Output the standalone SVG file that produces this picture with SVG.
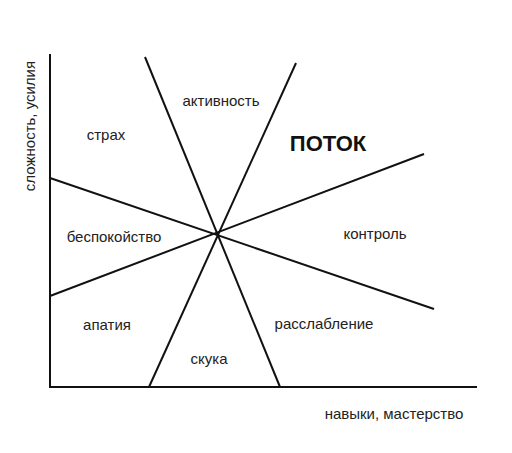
<svg xmlns="http://www.w3.org/2000/svg" width="512" height="453" viewBox="0 0 512 453">
<style>
.l{stroke:#111;stroke-width:2;fill:none;stroke-linecap:butt}
.t{font-family:"Liberation Sans",Arial,sans-serif;font-size:15px;fill:#222;text-anchor:middle}
.b{font-family:"Liberation Sans",Arial,sans-serif;font-size:22px;font-weight:bold;fill:#111;text-anchor:middle}
</style>
<rect width="512" height="453" fill="#fff"/>
<g id="connectors">
<path class="l" d="M50,54 V387 H477"/>
<line class="l" x1="145" y1="57" x2="280" y2="387"/>
<line class="l" x1="296" y1="63" x2="149" y2="387"/>
<line class="l" x1="50" y1="178" x2="434" y2="309"/>
<line class="l" x1="50" y1="296" x2="424" y2="154"/>
</g>
<g id="axis-y"><text class="t" transform="translate(35,126) rotate(-90)">сложность, усилия</text></g>
<g id="axis-x"><text class="t" x="394" y="419">навыки, мастерство</text></g>
<g id="strah"><text class="t" x="106" y="140">страх</text></g>
<g id="aktivnost"><text class="t" x="221" y="106">активность</text></g>
<g id="potok"><text class="b" x="328" y="151">ПОТОК</text></g>
<g id="bespokoystvo"><text class="t" x="114" y="242">беспокойство</text></g>
<g id="kontrol"><text class="t" x="375" y="239">контроль</text></g>
<g id="apatiya"><text class="t" x="107" y="330">апатия</text></g>
<g id="rasslablenie"><text class="t" x="324" y="329">расслабление</text></g>
<g id="skuka"><text class="t" x="209" y="364">скука</text></g>
</svg>
